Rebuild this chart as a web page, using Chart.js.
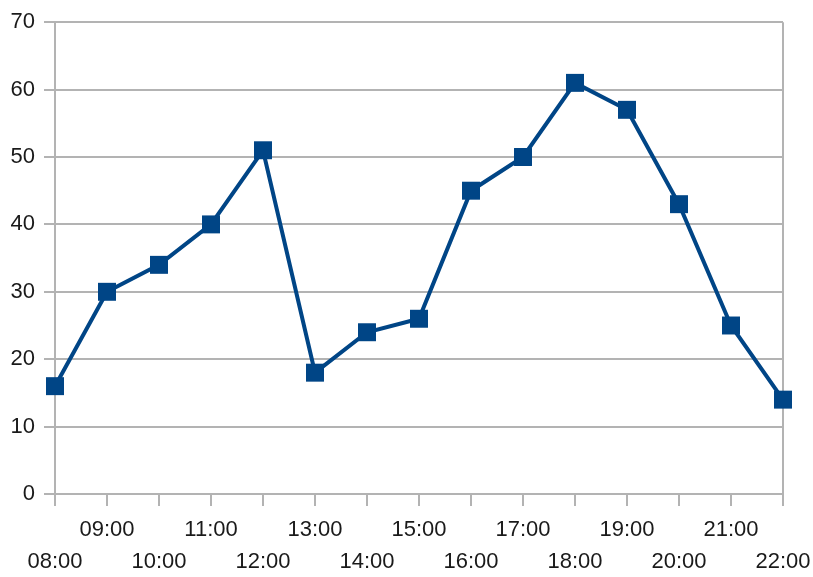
<!DOCTYPE html>
<html>
<head>
<meta charset="utf-8">
<script src="https://cdn.jsdelivr.net/npm/chart.js@4/dist/chart.umd.min.js"></script>
<style>
  html, body { margin: 0; padding: 0; background: #fff; }
  canvas { display: block; }
</style>
</head>
<body>
<canvas id="chart" width="813" height="577"></canvas>
<script>
// hourly values
const hours = ['08:00', '09:00', '10:00', '11:00', '12:00', '13:00', '14:00', '15:00',
               '16:00', '17:00', '18:00', '19:00', '20:00', '21:00', '22:00'];
const counts = [16, 30, 34, 40, 51, 18, 24, 26, 45, 50, 61, 57, 43, 25, 14];
const yTicks = [0, 10, 20, 30, 40, 50, 60, 70];

const gridGrey = '#b3b3b3';
const lineBlue = '#004586';
const labelFont = "'Liberation Sans', Arial, sans-serif";

const ctx = document.getElementById('chart').getContext('2d');
new Chart(ctx, {
    type: 'line',
    data: {
        labels: hours,
        datasets: [{
            data: counts,
            borderColor: lineBlue,
            backgroundColor: lineBlue,
            borderWidth: 4,
            pointStyle: 'rect',
            pointRadius: 12.7,
            pointHoverRadius: 12.7,
            pointBorderWidth: 0,
            tension: 0,
            clip: false
        }]
    },
    options: {
        responsive: false,
        animation: false,
        events: [],
        layout: { padding: { top: 20, right: 30, left: 0, bottom: 0 } },
        plugins: {
            legend: { display: false },
            tooltip: { enabled: false }
        },
        scales: {
            x: {
                offset: false,
                grid: {
                    // only the right edge line shows inside the plot
                    color: c => c.index === hours.length - 1 ? gridGrey : 'rgba(0,0,0,0)',
                    tickColor: gridGrey,
                    lineWidth: 2,
                    drawTicks: true,
                    tickLength: 12
                },
                border: { display: true, color: gridGrey, width: 2 },
                ticks: {
                    autoSkip: false,
                    maxRotation: 0,
                    padding: 8,
                    color: '#1a1a1a',
                    font: { family: labelFont, size: 22, lineHeight: 1.455 },
                    // stagger: odd hours on the upper row, even hours below
                    callback: function (value, index) {
                        const label = hours[index];
                        return index % 2 === 0 ? ['', label] : [label, ''];
                    }
                },
                afterFit: scale => {
                    scale.height = 83;
                    // let layout.padding decide the side margins
                    scale.paddingLeft = 0;
                    scale.paddingRight = 0;
                }
            },
            y: {
                min: 0,
                max: 70,
                afterBuildTicks: scale => { scale.ticks = yTicks.map(v => ({ value: v })); },
                grid: {
                    color: gridGrey,
                    lineWidth: 2,
                    drawTicks: true,
                    tickLength: 11
                },
                border: { display: true, color: gridGrey, width: 2 },
                ticks: {
                    padding: 9,
                    color: '#1a1a1a',
                    font: { family: labelFont, size: 22 }
                },
                afterFit: scale => { scale.width = 55; }
            }
        }
    }
});
</script>
</body>
</html>
